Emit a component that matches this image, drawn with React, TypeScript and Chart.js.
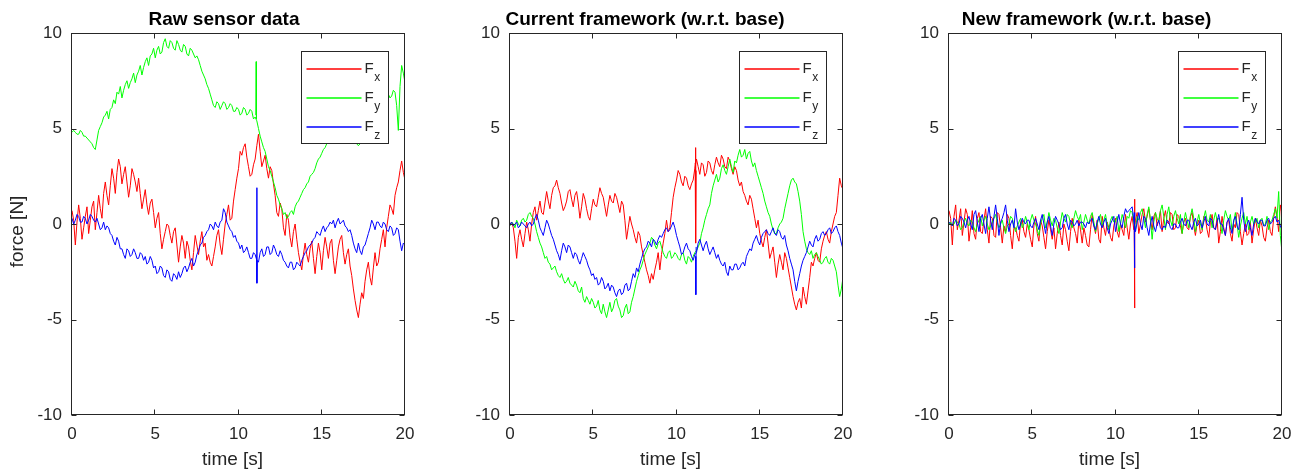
import React, { useEffect, useRef } from "react";
import { Chart, registerables } from "chart.js";

Chart.register(...registerables);

// Sampling grid of the logged force signals: 0 ... 20 s every 0.1 s.
const SAMPLE_COUNT = 201;
const TIME_S: number[] = Array.from({ length: SAMPLE_COUNT }, (_, i) => i / 10);

const X_TICKS = [0, 5, 10, 15, 20];
const Y_TICKS = [-10, -5, 0, 5, 10];

// ---- Raw sensor data [N] (one row = 2 s) ----
const RAW_FX = [
  0.7, 0.2, -1.1, 0.1, 1.0, 0.3, -0.8, -0.2, 0.4, 0.9, -0.5, 0.2, 0.9, 1.2, -0.3, 0.6, 1.5, 0.8, 0.3, 1.6,
  2.2, 1.5, 1.0, 2.0, 2.9, 2.4, 1.6, 2.7, 3.4, 3.0, 2.1, 2.6, 3.0, 2.2, 1.4, 2.0, 2.9, 2.6, 2.2, 1.7,
  2.4, 1.6, 0.8, 1.3, 1.8, 1.0, 0.5, 1.1, 1.3, 0.6, -0.2, 0.3, 0.6, -0.5, -1.3, -0.8, -0.4, 0.0, -0.1, -0.6,
  -1.0, -0.4, -0.2, -1.1, -2.0, -1.2, -0.6, -1.0, -1.8, -0.9, -1.2, -1.9, -2.4, -1.5, -0.6, -1.1, -1.6, -0.9, -0.4, -1.2,
  -1.0, -1.9, -1.6, -2.0, -2.2, -1.7, -1.2, -0.6, -0.3, -1.1, -1.6, -0.8, 0.0, 0.5, 1.0, 0.2, 0.3, 1.2, 1.8, 2.4,
  2.9, 3.8, 3.6, 4.0, 4.2, 3.5, 3.0, 2.5, 2.6, 3.1, 3.4, 4.1, 4.7, 3.8, 3.0, 3.3, 3.6, 2.9, 2.4, 3.0,
  2.8, 2.1, 1.5, 0.6, 0.4, 1.1, 0.8, -0.2, -0.6, 0.5, 0.2, -0.7, -1.2, -0.4, 0.0, -0.8, -1.5, -2.0, -2.4, -1.6,
  -1.0, -1.6, -2.0, -1.3, -0.9, -1.8, -2.6, -1.7, -1.0, -1.5, -2.4, -1.4, -0.7, -1.2, -1.8, -1.0, -0.8, -1.9, -2.6, -1.9,
  -1.2, -0.8, -0.6, -1.5, -2.1, -1.6, -1.3, -2.2, -2.7, -3.4, -4.0, -4.5, -4.9, -4.2, -3.6, -3.9, -3.0, -2.4, -2.0, -2.8,
  -3.2, -2.3, -1.5, -2.2, -2.0, -1.3, -0.8, -0.3, -1.2, -0.2, 0.4, 1.0, 0.8, 0.5, 1.5, 1.9, 2.2, 2.8, 3.3, 2.7,
  2.3,
];
const RAW_FY = [
  4.8, 4.9, 4.8, 4.7, 4.7, 4.9, 4.8, 4.6, 4.6, 4.5, 4.4, 4.3, 4.2, 4.0, 3.9, 4.4, 4.9, 5.1, 5.3, 5.6,
  5.7, 5.9, 5.5, 6.0, 6.1, 6.5, 6.3, 6.9, 6.8, 7.2, 6.6, 7.0, 7.3, 7.5, 7.1, 7.4, 7.6, 7.9, 7.4, 7.8,
  8.0, 8.3, 7.8, 8.2, 8.5, 8.7, 8.3, 8.8, 8.9, 9.2, 8.7, 9.1, 9.3, 8.9, 9.0, 9.5, 9.7, 9.3, 9.2, 9.6,
  9.5, 9.2, 9.1, 9.6, 9.4, 9.1, 9.0, 9.4, 9.3, 8.9, 8.8, 9.2, 9.1, 8.9, 8.7, 8.8, 8.6, 8.3, 8.0, 7.8,
  7.6, 7.3, 7.1, 6.8, 6.5, 6.2, 6.1, 6.4, 6.3, 6.0, 6.2, 6.4, 6.3, 6.0, 6.1, 6.3, 6.2, 5.9, 5.9, 6.1,
  6.0, 5.7, 5.8, 6.1, 6.0, 5.7, 5.8, 6.0, 5.9, 5.5, 5.6, 5.4, 5.0, 4.6, 4.3, 4.0, 3.8, 3.4, 3.0, 2.8,
  2.5, 2.2, 1.9, 1.5, 1.3, 1.0, 0.8, 0.5, 0.6, 0.3, 0.4, 0.6, 0.7, 0.5, 0.9, 1.1, 1.2, 1.4, 1.6, 1.8,
  1.9, 2.1, 2.2, 2.5, 2.6, 2.7, 2.9, 3.2, 3.4, 3.5, 3.7, 3.9, 4.0, 4.2, 4.3, 4.4, 4.5, 4.5, 4.6, 4.7,
  4.7, 4.8, 4.8, 4.7, 4.6, 4.6, 4.5, 4.4, 4.4, 4.3, 4.3, 4.2, 4.1, 4.2, 4.3, 4.4, 4.5, 4.6, 4.8, 4.9,
  5.1, 5.3, 5.5, 5.7, 5.9, 6.1, 6.3, 6.5, 6.6, 6.9, 6.8, 6.6, 6.7, 7.0, 6.9, 6.2, 4.9, 7.2, 8.3, 7.9,
  7.4,
];
const RAW_FZ = [
  0.3, 0.0, 0.2, 0.5, 0.4, 0.1, 0.1, 0.4, 0.3, 0.0, 0.2, 0.5, 0.4, 0.2, 0.1, 0.3, 0.0, -0.3, -0.2, 0.1,
  -0.3, -0.1, -0.2, -0.5, -0.6, -0.9, -1.1, -0.7, -0.9, -1.3, -1.3, -1.6, -1.8, -1.3, -1.4, -1.7, -1.6, -1.3, -1.5, -1.8,
  -1.8, -1.5, -1.6, -1.9, -1.7, -2.1, -2.0, -1.7, -1.9, -2.3, -2.2, -2.6, -2.5, -2.2, -2.3, -2.7, -2.8, -2.4, -2.5, -2.9,
  -3.0, -2.6, -2.7, -2.9, -2.5, -2.8, -2.6, -2.3, -2.2, -2.5, -2.3, -2.0, -1.8, -2.2, -2.0, -1.6, -1.4, -1.1, -1.0, -0.7,
  -0.6, -0.4, -0.3, 0.0, -0.1, -0.3, 0.1, -0.1, -0.2, 0.1, 0.2, 0.8, 0.6, 0.1, -0.1, -0.3, -0.4, -0.7, -0.6, -0.9,
  -1.0, -1.3, -1.1, -1.5, -1.4, -1.2, -1.5, -1.8, -1.8, -1.5, -1.6, -1.9, -2.0, -1.5, -1.3, -1.7, -1.6, -1.2, -1.2, -1.6,
  -1.5, -1.1, -1.3, -1.6, -1.7, -1.4, -1.6, -1.9, -2.0, -2.2, -2.3, -2.0, -2.0, -2.4, -2.3, -2.0, -2.1, -2.2, -1.9, -1.7,
  -1.5, -1.4, -1.2, -1.1, -1.0, -0.8, -0.7, -0.4, -0.5, -0.6, -0.3, -0.1, -0.4, -0.2, -0.1, 0.1, 0.0, 0.2, -0.2, 0.1,
  0.3, 0.0, 0.1, 0.2, -0.1, -0.2, -0.4, -0.3, -0.6, -1.0, -1.3, -1.5, -1.0, -1.4, -1.6, -1.2, -1.1, -0.8, -0.5, -0.2,
  0.2, 0.0, -0.3, 0.1, 0.1, -0.1, -0.2, 0.1, 0.0, -0.3, -0.4, -0.1, -0.2, -0.6, -0.5, -0.2, -0.3, -0.9, -1.4, -1.0,
  -1.1,
];
// Short contact impulse around t = 11.1 s
const RAW_FY_SPIKE_T = [11.04, 11.06, 11.08];
const RAW_FY_SPIKE = [5.7, 8.5, 5.5];
const RAW_FZ_SPIKE_T = [11.08, 11.1, 11.11, 11.13];
const RAW_FZ_SPIKE = [-1.7, 1.9, -3.1, -1.9];

// ---- Current framework (w.r.t. base) [N] ----
const CUR_FX = [
  0.0, 0.1, -0.2, -0.9, -1.8, -0.7, -0.3, -0.8, -1.2, -0.5, 0.1, -0.3, -0.9, 0.0, 0.6, 0.9, 0.2, 0.7, 1.2, 0.6,
  0.5, 1.1, 1.7, 1.2, 0.8, 1.5, 1.9, 2.0, 2.3, 1.9, 1.6, 1.1, 0.7, 0.9, 1.2, 1.7, 1.8, 1.3, 0.9, 1.5,
  1.7, 1.1, 0.3, 0.9, 1.6, 1.3, 0.8, 0.4, 0.2, 0.8, 1.3, 1.0, 0.9, 1.4, 1.9, 1.6, 1.4, 0.9, 0.4, 1.0,
  1.5, 1.2, 1.1, 1.6, 1.4, 1.0, 0.6, 1.2, 1.0, 0.2, -0.8, -0.2, 0.4, 0.0, -0.3, -0.7, -1.0, -0.4, -0.6, -1.2,
  -1.6, -2.0, -2.4, -2.7, -3.1, -2.6, -2.9, -2.4, -2.0, -1.5, -2.4, -1.6, -1.0, -0.5, 0.2, -0.4, -0.2, 0.6, 1.4, 1.9,
  2.3, 2.8, 2.6, 2.2, 2.0, 2.5, 2.4, 2.0, 1.8, 2.1, 2.3, 2.9, 3.4, 3.0, 2.6, 3.2, 3.1, 2.5, 2.7, 3.3,
  3.2, 2.8, 2.6, 3.1, 3.5, 3.2, 3.0, 3.6, 3.4, 3.0, 2.9, 3.5, 3.3, 2.9, 2.6, 3.0, 2.8, 2.3, 2.0, 2.2,
  1.7, 1.5, 1.2, 1.0, 1.5, 1.3, 0.8, 0.3, -0.2, 0.2, -0.5, -0.9, -1.2, -0.7, -0.3, -1.0, -1.8, -1.5, -1.2, -2.0,
  -2.8, -2.1, -1.6, -2.0, -2.4, -1.5, -1.8, -2.3, -2.8, -3.3, -3.8, -4.2, -4.5, -4.1, -3.9, -4.4, -3.3, -3.8, -4.2, -3.5,
  -2.8, -2.0, -2.2, -1.8, -1.5, -1.9, -2.0, -1.3, -0.9, -0.6, -0.4, -0.8, -1.0, -0.4, 0.0, 0.4, 0.6, 1.5, 2.4, 2.0,
  1.8,
];
const CUR_FY = [
  -0.1, 0.1, 0.0, -0.2, 0.2, 0.0, -0.1, 0.2, 0.3, 0.1, 0.2, 0.5, 0.6, 0.4, 0.3, 0.0, -0.4, -0.7, -1.0, -1.2,
  -1.5, -1.8, -1.7, -2.0, -2.1, -2.4, -2.3, -2.2, -2.5, -2.7, -2.8, -2.6, -2.9, -3.1, -3.0, -2.8, -3.1, -3.2, -3.3, -3.0,
  -3.2, -3.5, -3.6, -3.3, -3.9, -4.1, -3.8, -4.0, -4.2, -3.9, -4.1, -4.4, -4.3, -4.0, -4.5, -4.7, -4.2, -4.6, -4.9, -4.5,
  -4.1, -4.6, -4.4, -4.0, -3.9, -4.3, -4.5, -4.9, -4.8, -4.4, -4.2, -4.7, -4.6, -4.1, -3.8, -3.4, -3.0, -2.7, -2.4, -2.2,
  -1.9, -1.6, -1.4, -1.2, -1.0, -0.7, -0.8, -1.1, -1.3, -1.0, -0.9, -1.2, -1.5, -1.7, -1.8, -1.5, -1.4, -1.8, -1.7, -1.5,
  -1.6, -1.8, -1.9, -1.6, -1.5, -1.9, -2.1, -1.7, -1.8, -2.0, -1.7, -1.5, -1.4, -1.2, -1.0, -0.5, -0.2, 0.2, 0.5, 0.8,
  1.0, 1.6, 2.0, 2.3, 2.6, 2.2, 2.4, 2.9, 3.1, 2.8, 2.6, 3.0, 3.4, 3.0, 2.7, 3.3, 3.2, 3.6, 3.9, 3.5,
  3.6, 3.9, 3.4, 3.7, 3.8, 3.3, 3.0, 3.2, 2.8, 2.5, 2.2, 1.9, 1.6, 1.2, 0.9, 0.6, 0.4, 0.0, -0.3, -0.5,
  -0.5, -0.2, 0.0, 0.1, 0.3, 0.8, 1.2, 1.6, 2.0, 2.3, 2.4, 2.2, 2.1, 1.7, 1.2, 0.5, -0.4, -0.9, -1.3, -1.5,
  -1.6, -1.4, -1.8, -1.6, -1.5, -1.7, -1.9, -2.1, -2.0, -1.8, -1.7, -2.0, -2.1, -1.8, -1.9, -2.2, -2.5, -3.2, -3.8, -3.4,
  -2.8,
];
const CUR_FZ = [
  0.0, 0.1, -0.1, 0.0, 0.1, -0.2, -0.1, 0.1, 0.0, -0.1, -0.2, 0.0, 0.1, -0.1, 0.0, 0.3, 0.5, 0.2, -0.2, -0.4,
  -0.6, -0.2, 0.2, 0.0, -0.3, -0.6, -0.8, -1.1, -1.4, -1.6, -1.9, -1.4, -1.0, -1.2, -1.5, -1.1, -1.2, -1.5, -1.8, -1.5,
  -1.6, -1.9, -2.1, -1.8, -1.5, -1.7, -1.9, -2.2, -2.4, -2.7, -2.6, -2.9, -2.8, -3.2, -3.1, -2.8, -3.0, -3.4, -3.3, -3.1,
  -3.5, -3.2, -3.3, -3.6, -3.8, -3.5, -3.4, -3.7, -3.6, -3.2, -3.1, -3.5, -3.4, -3.0, -2.6, -2.8, -2.3, -2.5, -2.1, -1.8,
  -1.5, -1.3, -1.2, -0.9, -1.0, -1.2, -0.8, -0.9, -1.1, -0.8, -0.6, -0.7, -0.5, -0.3, -0.2, -0.4, -0.3, -0.1, 0.1, -0.2,
  -0.6, -0.9, -1.2, -1.6, -1.5, -1.2, -1.0, -1.3, -1.4, -1.7, -1.9, -1.6, -1.5, -1.0, -0.8, -1.1, -1.4, -1.1, -0.9, -1.3,
  -1.6, -1.4, -1.2, -1.5, -1.8, -1.6, -1.9, -2.1, -2.2, -2.0, -2.5, -2.7, -2.2, -2.4, -2.4, -2.1, -2.1, -2.4, -2.3, -2.1,
  -2.0, -2.2, -1.7, -1.5, -1.3, -1.4, -1.0, -0.8, -0.6, -0.9, -1.1, -0.7, -0.5, -0.4, -0.3, -0.5, -0.6, -0.4, -0.2, -0.5,
  -0.6, -0.3, -0.4, -0.7, -0.8, -0.6, -1.1, -1.4, -1.8, -2.1, -2.4, -3.0, -3.5, -3.0, -2.6, -2.2, -1.9, -1.7, -1.5, -1.2,
  -0.9, -1.1, -1.2, -0.8, -0.6, -0.9, -0.8, -0.5, -0.4, -0.6, -0.5, -0.3, -0.2, -0.5, -0.4, -0.2, -0.1, -0.4, -0.6, -1.0,
  -1.3,
];
const CUR_FX_SPIKE_T = [11.12, 11.14, 11.16, 11.18];
const CUR_FX_SPIKE = [3.2, 4.0, -1.0, 2.8];
const CUR_FZ_SPIKE_T = [11.14, 11.16, 11.18];
const CUR_FZ_SPIKE = [-1.7, -3.7, -1.2];

// ---- New framework (w.r.t. base) [N] ----
const NEW_FX = [
  0.7, 0.3, -1.1, 0.4, 1.0, -0.3, 0.2, 0.8, -0.6, 0.1, 0.8, 0.5, -0.9, -0.2, 0.7, -0.5, -0.8, 0.3, 0.6, -0.4,
  -0.5, 0.2, 0.8, -0.3, -1.0, 0.4, 0.3, -0.6, -0.7, 0.6, 0.5, -0.2, -1.0, -0.1, -0.4, 0.5, 0.3, -0.6, -1.3, -0.2,
  -0.2, -0.6, -0.9, 0.1, 0.2, -0.4, -0.7, 0.0, -0.3, -0.8, -1.2, -0.1, 0.4, -0.5, -0.9, 0.2, -0.1, -0.7, -1.3, -0.4,
  0.2, -0.3, -0.8, -0.2, -1.3, -0.5, 0.1, -0.6, -1.1, 0.0, -0.3, -0.9, -1.4, -0.4, 0.3, -0.2, -0.5, -1.0, 0.2, -0.3,
  -1.0, -0.2, -0.6, -1.1, -1.2, -0.3, 0.5, -0.1, -0.5, 0.2, -0.8, -1.0, 0.4, -0.2, -0.6, 0.1, -0.2, -0.7, -0.9, -0.1,
  0.3, -0.4, -0.7, 0.0, -0.3, -0.6, 0.5, -0.2, -0.8, 0.0, 0.4, -0.3, 0.2, 0.6, -0.5, 0.0, 0.5, 0.8, 0.1, 0.4,
  0.8, 0.2, -0.3, 0.4, 0.6, -0.1, 0.2, 0.7, -0.4, 0.3, 0.7, 0.1, 0.0, 0.6, 0.5, -0.3, -0.2, 0.5, 0.4, -0.1,
  -0.5, 0.1, 0.3, -0.2, -0.3, 0.4, 0.6, -0.1, -0.6, 0.0, 0.2, -0.5, -0.4, 0.4, 0.3, -0.3, -0.7, 0.1, 0.5, -0.2,
  -0.3, 0.3, -1.0, -0.4, 0.4, -0.2, -0.6, 0.1, 0.2, -0.5, -0.9, 0.0, -0.2, 0.6, 0.5, -0.4, -1.1, -0.5, 0.0, -0.6,
  -0.5, 0.1, -1.0, -0.3, 0.3, -0.2, -0.6, 0.2, -0.1, -0.7, -0.9, -0.2, 0.2, -0.4, -0.6, 0.3, 0.9, 0.4, -0.4, 1.0,
  0.5,
];
const NEW_FY = [
  0.0, 0.1, -0.1, 0.0, 0.2, 0.1, 0.0, -0.3, -0.2, 0.1, 0.3, 0.0, -0.1, 0.2, 0.1, -0.2, -0.4, 0.0, 0.2, 0.4,
  -0.1, 0.2, 0.4, 0.0, -0.3, -0.1, 0.1, 0.3, 0.5, 0.1, -0.2, 0.0, 0.2, -0.2, -0.5, -0.1, 0.0, 0.4, 0.3, -0.1,
  -0.4, -0.1, 0.1, 0.3, -0.2, 0.0, 0.4, 0.1, -0.3, 0.2, 0.5, 0.2, 0.0, -0.3, -0.6, 0.0, 0.3, 0.5, -0.2, 0.1,
  0.6, 0.2, -0.1, 0.3, 0.2, -0.2, -0.5, 0.1, 0.6, 0.3, 0.1, 0.5, 0.4, 0.0, -0.2, 0.3, 0.7, 0.4, 0.2, 0.5,
  -0.3, 0.1, 0.5, 0.2, 0.0, 0.4, 0.6, 0.1, -0.4, 0.0, 0.3, 0.5, -0.1, 0.2, 0.5, 0.0, -0.3, 0.2, 0.4, 0.1,
  0.1, 0.4, -0.4, 0.0, 0.5, 0.2, -0.2, 0.4, 0.3, 0.7, 0.6, 0.1, -0.3, 0.4, 0.2, 0.6, 0.8, 0.3, -0.2, 0.5,
  0.9, 0.2, -0.8, 0.1, 0.6, 0.3, 0.1, 0.7, 1.0, 0.4, -0.3, 0.5, 0.9, 0.2, -0.1, 0.4, 0.7, 0.3, 0.0, 0.5,
  -0.5, 0.1, 0.6, 0.2, -0.2, 0.4, 0.8, 0.3, -0.4, 0.1, 0.5, 0.0, -0.3, 0.3, 0.7, 0.2, 0.1, 0.5, -0.2, 0.2,
  0.6, 0.2, 0.3, 0.0, -0.5, 0.2, 0.7, 0.4, 0.2, 0.5, -0.4, 0.1, 0.6, 0.0, -0.7, -0.1, 0.3, 0.6, 0.0, 0.4,
  -0.3, 0.1, 0.4, 0.0, 0.1, 0.3, -0.2, 0.2, 0.3, -0.1, 0.0, 0.4, -0.3, 0.1, 0.2, 0.5, 0.8, 0.3, 1.7, -0.6,
  -1.5,
];
const NEW_FZ = [
  0.1, 0.0, -0.1, 0.3, 0.2, -0.1, 0.0, 0.4, 0.3, 0.1, -0.2, 0.2, 0.4, 0.0, -0.3, 0.5, 0.7, 0.1, -0.4, 0.3,
  0.5, 0.0, -0.5, 0.3, 0.9, 0.2, -0.3, 0.4, 1.0, 0.3, -0.6, 0.1, 0.3, 0.6, 1.0, 0.2, -0.4, 0.0, 0.2, -0.2,
  0.8, 0.1, -0.3, 0.0, 0.3, 0.1, 0.0, 0.2, 0.2, -0.1, -0.2, 0.1, 0.3, 0.0, -0.3, 0.2, 0.5, 0.0, -0.5, 0.1,
  0.4, -0.1, -0.6, 0.0, 0.4, 0.2, 0.0, -0.3, -0.2, 0.3, 0.5, 0.0, -0.3, 0.2, 0.1, -0.1, 0.0, 0.2, -0.1, 0.1,
  0.1, 0.0, -0.2, 0.1, 0.0, 0.2, 0.3, -0.1, -0.3, 0.1, 0.4, 0.0, -0.2, 0.1, 0.3, -0.2, -0.5, 0.0, 0.2, 0.4,
  -0.4, 0.1, 0.5, 0.0, -0.2, 0.4, 0.8, 0.6, 0.7, 0.8, 0.9, 0.2, -0.4, 0.1, 0.6, 0.0, -0.3, 0.4, 0.3, -0.2,
  -0.6, 0.0, 0.4, -0.1, -0.4, 0.0, 0.2, -0.2, -0.3, -0.1, -0.2, 0.2, 0.1, -0.2, -0.3, 0.0, 0.0, -0.2, -0.2, 0.1,
  0.3, 0.0, -0.1, 0.2, 0.2, -0.1, -0.3, 0.1, 0.3, -0.1, 0.0, 0.2, -0.2, 0.1, 0.4, 0.0, -0.1, 0.3, 0.2, -0.2,
  -0.3, 0.1, 0.5, 0.0, 0.0, -0.3, -0.6, 0.1, 0.3, -0.2, -0.5, 0.2, 0.4, -0.1, -0.3, 0.5, 1.4, 0.2, -0.4, 0.0,
  0.2, -0.2, -0.6, 0.0, 0.3, 0.1, 0.0, 0.2, 0.2, -0.1, -0.1, 0.2, 0.3, 0.0, 0.1, 0.3, 0.4, 0.1, 0.2, -0.1,
  -0.3,
];
const NEW_FX_SPIKE_T = [11.12, 11.14, 11.15, 11.17];
const NEW_FX_SPIKE = [0.3, 1.3, -4.4, 0.0];
const NEW_FZ_SPIKE_T = [11.12, 11.14, 11.16];
const NEW_FZ_SPIKE = [0.6, -2.3, 0.4];

const COMPONENTS = ["x", "y", "z"];
const COLORS: Record<string, string> = { x: "#ff0000", y: "#00ff00", z: "#0000ff" };
// Fz is plotted last (on top), Fx first.
const DRAW_ORDER: Record<string, number> = { x: 3, y: 2, z: 1 };

const FONT = "'Liberation Sans', Arial, Helvetica, sans-serif";
const INK = "#262626";
const CANVAS_W = 424;
const CANVAS_H = 472;

type Spike = { comp: string; t: number[]; v: number[] };
type PanelSpec = {
  left: number;
  title: string;
  titleCenter: number;
  yTitle?: string;
  values: Record<string, number[]>;
  spikes: Spike[];
};

const PANELS: PanelSpec[] = [
  {
    left: 0,
    title: "Raw sensor data",
    titleCenter: 152,
    yTitle: "force [N]",
    values: { x: RAW_FX, y: RAW_FY, z: RAW_FZ },
    spikes: [
      { comp: "y", t: RAW_FY_SPIKE_T, v: RAW_FY_SPIKE },
      { comp: "z", t: RAW_FZ_SPIKE_T, v: RAW_FZ_SPIKE },
    ],
  },
  {
    left: 438,
    title: "Current framework (w.r.t. base)",
    titleCenter: 135,
    values: { x: CUR_FX, y: CUR_FY, z: CUR_FZ },
    spikes: [
      { comp: "x", t: CUR_FX_SPIKE_T, v: CUR_FX_SPIKE },
      { comp: "z", t: CUR_FZ_SPIKE_T, v: CUR_FZ_SPIKE },
    ],
  },
  {
    left: 877,
    title: "New framework (w.r.t. base)",
    titleCenter: 137.5,
    values: { x: NEW_FX, y: NEW_FY, z: NEW_FZ },
    spikes: [
      { comp: "x", t: NEW_FX_SPIKE_T, v: NEW_FX_SPIKE },
      { comp: "z", t: NEW_FZ_SPIKE_T, v: NEW_FZ_SPIKE },
    ],
  },
];

function decorPlugin(spec: PanelSpec) {
  return {
    id: "decor",
    afterDatasetsDraw(chart: any) {
      const { ctx, chartArea: a, scales } = chart;
      const xs = scales.x;
      const ys = scales.y;
      ctx.save();

      // Axes box with inward tick marks on all four sides
      const L = Math.round(a.left) - 0.5;
      const R = Math.round(a.right) - 0.5;
      const T = Math.round(a.top) + 0.5;
      const B = Math.round(a.bottom) - 0.5;
      const tick = 5;
      ctx.strokeStyle = INK;
      ctx.lineWidth = 1;
      ctx.strokeRect(L, T, R - L, B - T);
      ctx.beginPath();
      for (const v of X_TICKS) {
        const x = Math.round(xs.getPixelForValue(v)) - 0.5;
        ctx.moveTo(x, B);
        ctx.lineTo(x, B - tick);
        ctx.moveTo(x, T);
        ctx.lineTo(x, T + tick);
      }
      for (const v of Y_TICKS) {
        const y = Math.round(ys.getPixelForValue(v)) + 0.5;
        ctx.moveTo(L, y);
        ctx.lineTo(L + tick, y);
        ctx.moveTo(R, y);
        ctx.lineTo(R - tick, y);
      }
      ctx.stroke();

      // Legend box
      const bx = Math.round(a.right - 104) + 0.5;
      const by = Math.round(a.top + 18) + 0.5;
      const bw = 87;
      const bh = 92;
      ctx.fillStyle = "#ffffff";
      ctx.fillRect(bx, by, bw, bh);
      ctx.strokeStyle = INK;
      ctx.lineWidth = 1;
      ctx.strokeRect(bx, by, bw, bh);
      COMPONENTS.forEach((c, i) => {
        const ry = Math.round(by + 17 + i * 29.2);
        ctx.strokeStyle = COLORS[c];
        ctx.lineWidth = 1.3;
        ctx.beginPath();
        ctx.moveTo(bx + 5, ry);
        ctx.lineTo(bx + 60, ry);
        ctx.stroke();
        ctx.fillStyle = INK;
        ctx.textAlign = "left";
        ctx.textBaseline = "alphabetic";
        ctx.font = `15px ${FONT}`;
        ctx.fillText("F", bx + 63, ry + 4);
        const fw = ctx.measureText("F").width;
        ctx.font = `12px ${FONT}`;
        ctx.fillText(c, bx + 63 + fw + 0.5, ry + 11.5);
      });

      // Title
      ctx.fillStyle = "#000000";
      ctx.textAlign = "center";
      ctx.textBaseline = "alphabetic";
      ctx.font = `bold 19px ${FONT}`;
      ctx.fillText(spec.title, a.left + spec.titleCenter, 25);

      // Axis titles
      ctx.fillStyle = INK;
      ctx.font = `19px ${FONT}`;
      ctx.fillText("time [s]", a.left + 160.5, 465);
      if (spec.yTitle) {
        ctx.translate(22.5, 231.5);
        ctx.rotate(-Math.PI / 2);
        ctx.fillText(spec.yTitle, 0, 0);
      }
      ctx.restore();
    },
  };
}

function ForcePanel({ spec }: { spec: PanelSpec }) {
  const ref = useRef<HTMLCanvasElement | null>(null);

  useEffect(() => {
    const canvas = ref.current;
    if (!canvas) return;
    const datasets: any[] = [];
    COMPONENTS.forEach((c) => {
      datasets.push({
        label: "F" + c,
        data: TIME_S.map((t, i) => ({ x: t, y: spec.values[c][i] })),
        borderColor: COLORS[c],
        borderWidth: 1,
        pointRadius: 0,
        tension: 0,
        order: DRAW_ORDER[c],
      });
    });
    spec.spikes.forEach((s) => {
      datasets.push({
        label: "F" + s.comp + " impulse",
        data: s.t.map((t, i) => ({ x: t, y: s.v[i] })),
        borderColor: COLORS[s.comp],
        borderWidth: 1,
        pointRadius: 0,
        tension: 0,
        order: DRAW_ORDER[s.comp],
      });
    });

    const tickFont = { family: FONT, size: 17 };
    const chart = new Chart(canvas, {
      type: "line",
      data: { datasets },
      options: {
        responsive: false,
        animation: false,
        devicePixelRatio: 1,
        layout: { padding: { top: 33, right: 19, left: 0, bottom: 0 } },
        plugins: {
          legend: { display: false },
          tooltip: { enabled: false },
          title: { display: false },
        },
        scales: {
          x: {
            type: "linear",
            min: 0,
            max: 20,
            afterBuildTicks: (s: any) => {
              s.ticks = X_TICKS.map((value) => ({ value }));
            },
            afterFit: (s: any) => {
              s.height = 57;
            },
            grid: { display: false, drawTicks: false },
            border: { display: false },
            ticks: { font: tickFont, color: INK, padding: 9, maxRotation: 0, autoSkip: false },
          },
          y: {
            type: "linear",
            min: -10,
            max: 10,
            afterBuildTicks: (s: any) => {
              s.ticks = Y_TICKS.map((value) => ({ value }));
            },
            afterFit: (s: any) => {
              s.width = 72;
            },
            grid: { display: false, drawTicks: false },
            border: { display: false },
            ticks: { font: tickFont, color: INK, padding: 10, autoSkip: false },
          },
        },
      } as any,
      plugins: [decorPlugin(spec)],
    });
    return () => chart.destroy();
  }, [spec]);

  return (
    <canvas
      ref={ref}
      width={CANVAS_W}
      height={CANVAS_H}
      style={{ position: "absolute", left: spec.left, top: 0, width: CANVAS_W, height: CANVAS_H, display: "block" }}
    />
  );
}

export default function App() {
  return (
    <div style={{ position: "fixed", left: 0, top: 0, width: 1301, height: 472, background: "#ffffff", overflow: "hidden" }}>
      {PANELS.map((p) => (
        <ForcePanel key={p.title} spec={p} />
      ))}
    </div>
  );
}
